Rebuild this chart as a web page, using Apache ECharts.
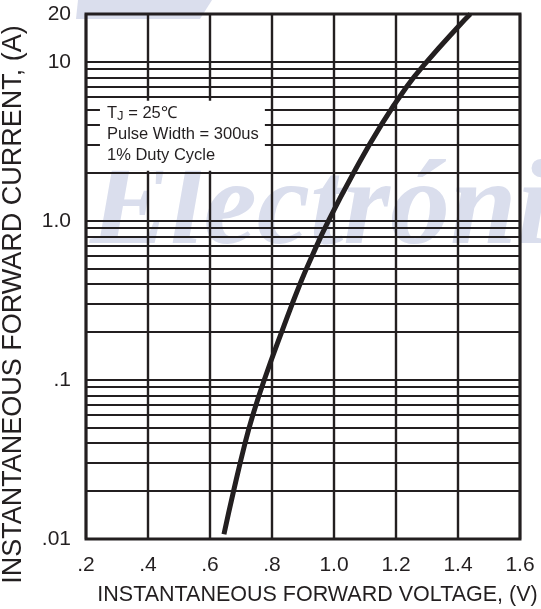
<!DOCTYPE html>
<html>
<head>
<meta charset="utf-8">
<script src="https://cdn.jsdelivr.net/npm/echarts@6/dist/echarts.min.js"></script>
<style>
html,body{margin:0;padding:0;background:#fff;}
#chart{width:541px;height:609px;}
</style>
</head>
<body>
<div id="chart"></div>
<script>
// ---- data ----
const X_TICKS = [0.2, 0.4, 0.6, 0.8, 1.0, 1.2, 1.4, 1.6];
const X_LABELS = ['.2', '.4', '.6', '.8', '1.0', '1.2', '1.4', '1.6'];
const Y_TICKS = [0.01, 0.1, 1, 10, 20];
const Y_LABELS = ['.01', '.1', '1.0', '10', '20'];
const GRID_Y = [0.02, 0.03, 0.04, 0.05, 0.06, 0.07, 0.08, 0.09,
                0.1, 0.2, 0.3, 0.4, 0.5, 0.6, 0.7, 0.8, 0.9,
                1, 2, 3, 4, 5, 6, 7, 8, 9, 10];
const VOLTAGE = [0.645, 0.676, 0.713, 0.738, 0.775, 0.831, 0.890, 0.929, 0.982, 1.063, 1.152, 1.235, 1.299, 1.405, 1.440];
const CURRENT = [0.0107, 0.02, 0.04, 0.06, 0.1, 0.2, 0.4, 0.6, 1.0, 2, 4, 7, 10, 17, 20];
const X_TITLE = 'INSTANTANEOUS FORWARD VOLTAGE, (V)';
const Y_TITLE = 'INSTANTANEOUS FORWARD CURRENT, (A)';

const INK = '#231f20';
const FONT = '"Liberation Sans", Arial, Helvetica, sans-serif';
const WATERMARK = '#dadeed';

function yLabel(v) {
  let best = 0, bd = Infinity;
  Y_TICKS.forEach((t, i) => {
    const d = Math.abs(Math.log10(v) - Math.log10(t));
    if (d < bd) { bd = d; best = i; }
  });
  return bd < 0.05 ? Y_LABELS[best] : '';
}
function xLabel(v) {
  let best = 0, bd = Infinity;
  X_TICKS.forEach((t, i) => {
    const d = Math.abs(v - t);
    if (d < bd) { bd = d; best = i; }
  });
  return bd < 0.01 ? X_LABELS[best] : '';
}

const chart = echarts.init(document.getElementById('chart'), null, {renderer: 'canvas'});
const option = {
  animation: false,
  backgroundColor: '#fff',
  grid: {
    left: 86, top: 14, width: 434, height: 525,
    show: true, borderColor: INK, borderWidth: 3, backgroundColor: 'transparent',
    containLabel: false, outerBoundsMode: 'none'
  },
  xAxis: {
    type: 'value', min: 0.2, max: 1.6, interval: 0.2,
    name: X_TITLE, nameLocation: 'middle', nameGap: 45,
    nameTextStyle: {color: INK, fontSize: 21.5, fontFamily: FONT, padding: [0, 0, 0, 29]},
    axisLine: {show: false}, axisTick: {show: false},
    axisLabel: {color: INK, fontSize: 21, fontFamily: FONT, margin: 16, formatter: xLabel,
                showMinLabel: true, showMaxLabel: true},
    splitLine: {show: true, lineStyle: {color: INK, width: 2.4}}
  },
  yAxis: {
    type: 'log', logBase: 10, min: 0.01, max: 20,
    name: Y_TITLE, nameLocation: 'middle', nameGap: 59,
    nameTextStyle: {color: INK, fontSize: 27, fontFamily: FONT, padding: [0, 56, 0, 0]},
    axisLine: {show: false}, axisTick: {show: false},
    axisLabel: {color: INK, fontSize: 21, fontFamily: FONT, margin: 15, formatter: yLabel,
                showMinLabel: true, showMaxLabel: true},
    splitLine: {show: false}
  },
  graphic: [
    {
      type: 'polygon', z: -10, silent: true,
      shape: {points: [[78, 0], [212, 0], [200, 19], [76, 19]]},
      style: {fill: WATERMARK}
    },
    {
      type: 'text', z: -10, silent: true,
      left: 90, top: 152,
      style: {text: 'Electróni', fill: WATERMARK, fontSize: 120,
              fontFamily: '"Liberation Serif", "DejaVu Serif", serif',
              fontStyle: 'italic', fontWeight: 'bold'}
    },
    {
      type: 'text', z: 20, silent: true, x: 107, y: 113,
      style: {
        text: 'T{sub|J} = 25℃',
        rich: {sub: {fontSize: 13, fontFamily: FONT, fill: INK, verticalAlign: 'bottom', lineHeight: 14}},
        fill: INK, fontSize: 16.5, fontFamily: FONT, verticalAlign: 'middle', lineHeight: 20
      }
    },
    {
      type: 'text', z: 20, silent: true, x: 107, y: 134,
      style: {text: 'Pulse Width = 300us', fill: INK, fontSize: 16.5, fontFamily: FONT, verticalAlign: 'middle'}
    },
    {
      type: 'text', z: 20, silent: true, x: 107, y: 155,
      style: {text: '1% Duty Cycle', fill: INK, fontSize: 16.5, fontFamily: FONT, verticalAlign: 'middle'}
    }
  ],
  series: [
    {
      name: 'grid-lines', type: 'line', data: [], silent: true, z: 1,
      markLine: {
        z: 1, silent: true, symbol: ['none', 'none'], label: {show: false},
        lineStyle: {color: INK, width: 2.2, type: 'solid'},
        emphasis: {disabled: true},
        data: GRID_Y.map(v => ({yAxis: v}))
      }
    },
    {
      name: 'note-box', type: 'line', data: [], silent: true, z: 2,
      markArea: {
        z: 2, silent: true,
        itemStyle: {color: '#ffffff', borderWidth: 0},
        data: [[{xAxis: 0.245, yAxis: 5.7}, {xAxis: 0.777, yAxis: 2.07}]]
      }
    },
    {
      name: 'IF', type: 'line', z: 3, smooth: 0.5, symbol: 'none',
      lineStyle: {color: INK, width: 5, cap: 'butt', join: 'round'},
      data: VOLTAGE.map((v, i) => [v, CURRENT[i]])
    }
  ]
};
chart.setOption(option);
</script>
</body>
</html>
